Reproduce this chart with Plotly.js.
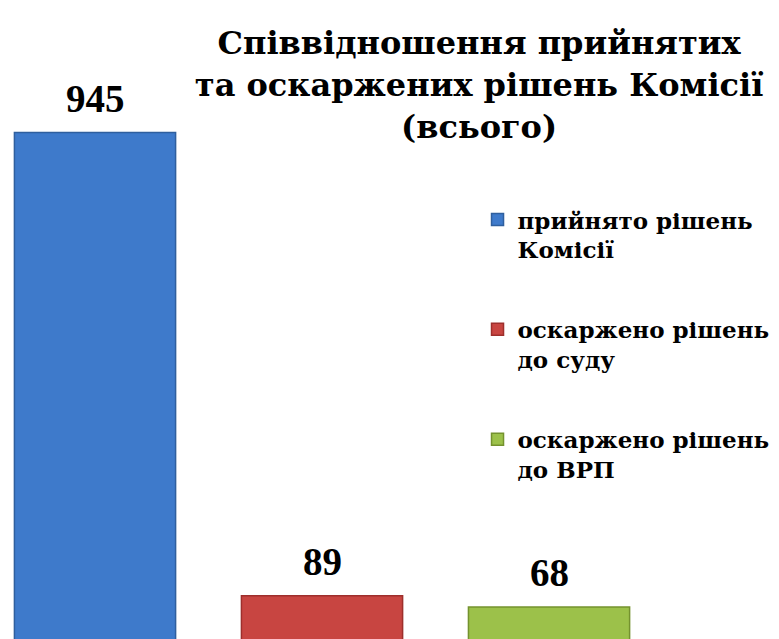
<!DOCTYPE html>
<html>
<head>
<meta charset="utf-8">
<script src="https://cdn.plot.ly/plotly-3.0.1.min.js"></script>
<style>html,body{margin:0;padding:0;background:#fff;}#chart{width:779px;height:639px;}</style>
</head>
<body>
<div id="chart"></div>
<script>
const seriesNames = ["прийнято рішень<br>Комісії", "оскаржено рішень<br>до суду", "оскаржено рішень<br>до ВРП"];
const categories = ["A", "B", "C"];
const values = [945, 89, 68];
const colors = ["#3E7ACB", "#C84541", "#9CC14A"];
const lineColors = ["#2F5F9E", "#9E2F2C", "#74922E"];

const serif = "'DejaVu Serif', 'Liberation Serif', serif";
const digitSerif = "'Liberation Serif', 'DejaVu Serif', serif";

const traces = values.map((v, i) => ({
  type: "bar",
  name: seriesNames[i],
  legendgroup: "g" + i,
  x: [categories[i]],
  y: [v],
  width: 0.71,
  marker: { color: colors[i], line: { color: lineColors[i], width: 1.5 } },
  hoverinfo: "none"
}));

const annotations = values.map((v, i) => ({
  x: categories[i], y: v, xref: "x", yref: "y",
  text: String(v), showarrow: false, yanchor: "bottom", yshift: 11,
  font: { family: digitSerif, size: 39, color: "#000", weight: "bold" }
}));

const layout = {
  width: 779, height: 639,
  margin: { l: 0, r: 0, t: 0, b: 0 },
  paper_bgcolor: "#fff", plot_bgcolor: "#fff",
  barmode: "overlay",
  showlegend: true,
  title: {
    text: "Співвідношення прийнятих<br>та оскаржених рішень Комісії<br>(всього)",
    font: { family: serif, size: 32, color: "#000", weight: "bold" },
    x: 0.615, xanchor: "center", xref: "container",
    y: 0.915, yanchor: "top", yref: "container"
  },
  xaxis: { type: "category", range: [-0.4185, 3.013], visible: false, fixedrange: true },
  yaxis: { range: [9, 1190], visible: false, fixedrange: true },
  legend: {
    x: 0.613, xanchor: "left", y: 0.69, yanchor: "top",
    font: { family: serif, size: 23, color: "#000", weight: "bold" },
    tracegroupgap: 47, valign: "top", bgcolor: "rgba(0,0,0,0)"
  },
  annotations: annotations
};

Plotly.newPlot("chart", traces, layout, { displayModeBar: false, staticPlot: true });
</script>
</body>
</html>
